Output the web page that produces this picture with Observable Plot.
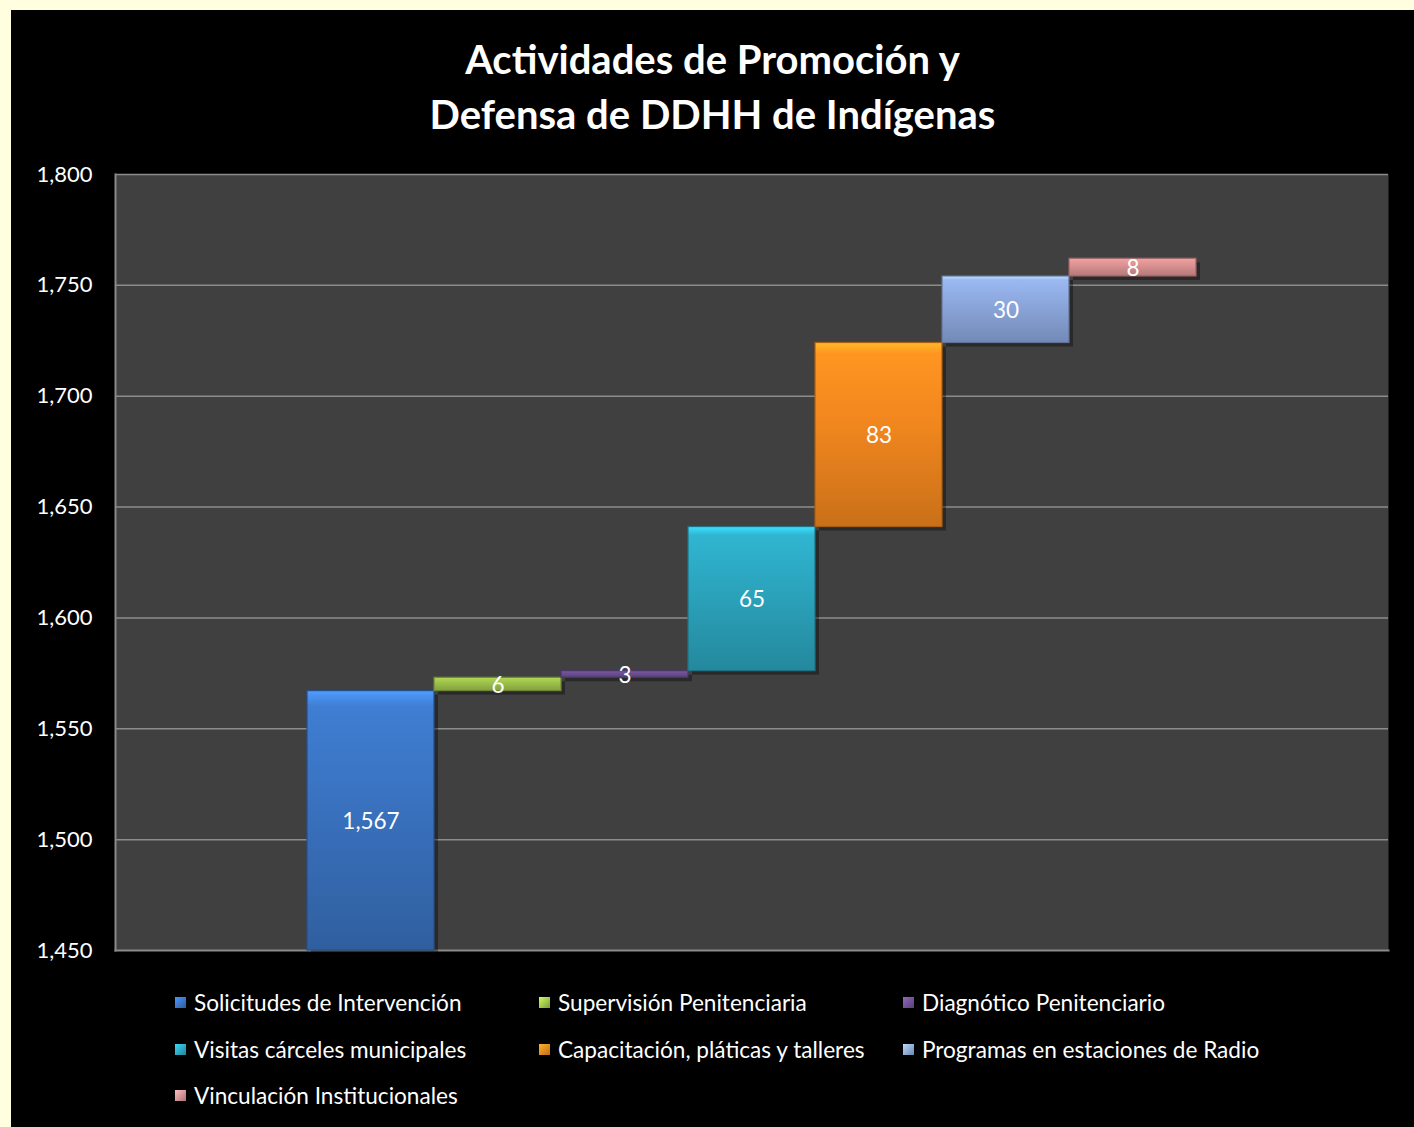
<!DOCTYPE html>
<html><head><meta charset="utf-8">
<script src="https://cdn.jsdelivr.net/npm/d3@7"></script>
<script src="https://cdn.jsdelivr.net/npm/@observablehq/plot@0.6"></script>
<style>
html,body{margin:0;padding:0;background:#ffffdf;width:1414px;height:1127px;overflow:hidden;font-family:Lato,"Open Sans",sans-serif;}
#chart{position:absolute;left:11px;top:10px;width:1403px;height:1117px;background:#000;}
#title{position:absolute;left:0;width:1403px;top:22px;text-align:center;color:#fff;font-weight:bold;font-size:40px;line-height:55px;}
#plot{position:absolute;left:0;top:140px;}
.item{position:absolute;height:30px;display:flex;align-items:center;color:#fff;font-size:22.6px;white-space:nowrap;}
.sw{width:11px;height:11px;margin-right:8px;}
</style>
</head><body>
<div id="chart">
  <div id="title">Actividades de Promoción y<br>Defensa de DDHH de Indígenas</div>
  <div id="plot"></div>
  <div id="legend"></div>
</div>
<script>
const categories = ["Solicitudes de Intervención", "Supervisión Penitenciaria", "Diagnótico Penitenciario", "Visitas cárceles municipales", "Capacitación, pláticas y talleres", "Programas en estaciones de Radio", "Vinculación Institucionales"];
const values = [1567, 6, 3, 65, 83, 30, 8];
const baseColors = ["#3971be", "#9bbf4a", "#6c4f90", "#2ba3bc", "#f0861e", "#8aa5d9", "#d78f8f"];
const yTicks = [1450, 1500, 1550, 1600, 1650, 1700, 1750, 1800];

let acc = 0;
const data = categories.map((c, i) => {
  const start = i === 0 ? 1450 : acc;
  acc = (i === 0 ? 0 : acc) + values[i];
  return {cat: c, i, value: values[i], start, end: acc};
});

const fmt = d3.format(",");
const plot = Plot.plot({
  width: 1403, height: 824,
  marginLeft: 104, marginRight: 26, marginTop: 24, marginBottom: 24,
  style: {background: "transparent", color: "#fff", fontSize: "22px", fontFamily: "Lato, 'Open Sans', sans-serif", overflow: "visible"},
  x: {type: "band", domain: categories, paddingInner: 0, paddingOuter: 1.5, axis: null},
  y: {domain: [1450, 1800], axis: null},
  color: {type: "identity"},
  marks: [
    Plot.frame({fill: "#404040", stroke: "none"}),
    Plot.ruleY(yTicks.filter(t => t > 1450), {stroke: "#8c8c8c", strokeWidth: 1.5}),
    Plot.frame({anchor: "left", stroke: "#8a8a8a", strokeWidth: 2}),
    Plot.frame({anchor: "bottom", stroke: "#8a8a8a", strokeWidth: 2}),
    Plot.axisY({ticks: yTicks, tickFormat: d => fmt(d), tickSize: 0, tickPadding: 23, fill: "#fff"}),
    Plot.rectY(data, {x: "cat", y1: "start", y2: "end", dx: 4, dy: 4, fill: "#000", fillOpacity: 0.35}),
    Plot.rectY(data, {x: "cat", y1: "start", y2: "end", fill: d => `url(#grad${d.i})`, stroke: d => d3.color(baseColors[d.i]).darker(1).formatHex(), strokeWidth: 1.2}),
    Plot.text(data, {x: "cat", y: d => (d.start + d.end) / 2, dy: 1, text: d => fmt(d.value), fill: "#fff", fontSize: 22.5})
  ]
});

const defs = d3.select(plot).insert("defs", ":first-child");
baseColors.forEach((c, i) => {
  const base = d3.color(c);
  const g = defs.append("linearGradient").attr("id", `grad${i}`).attr("x1", 0).attr("y1", 0).attr("x2", 0).attr("y2", 1);
  g.append("stop").attr("offset", "0%").attr("stop-color", base.brighter(0.9).formatHex());
  g.append("stop").attr("offset", "6%").attr("stop-color", base.brighter(0.3).formatHex());
  g.append("stop").attr("offset", "45%").attr("stop-color", base.formatHex());
  g.append("stop").attr("offset", "100%").attr("stop-color", base.darker(0.5).formatHex());
});
document.getElementById("plot").appendChild(plot);

const legend = document.getElementById("legend");
const colX = [164, 528, 892];
const rowY = [992, 1039, 1085];
categories.forEach((c, i) => {
  const el = document.createElement("div");
  el.className = "item";
  el.style.left = colX[i % 3] + "px";
  el.style.top = (rowY[Math.floor(i / 3)] - 15) + "px";
  const base = d3.color(baseColors[i]);
  el.innerHTML = `<span class="sw" style="background:linear-gradient(135deg, ${base.brighter(0.8).formatHex()}, ${base.darker(0.6).formatHex()})"></span><span>${c}</span>`;
  legend.appendChild(el);
});
</script>
</body></html>
